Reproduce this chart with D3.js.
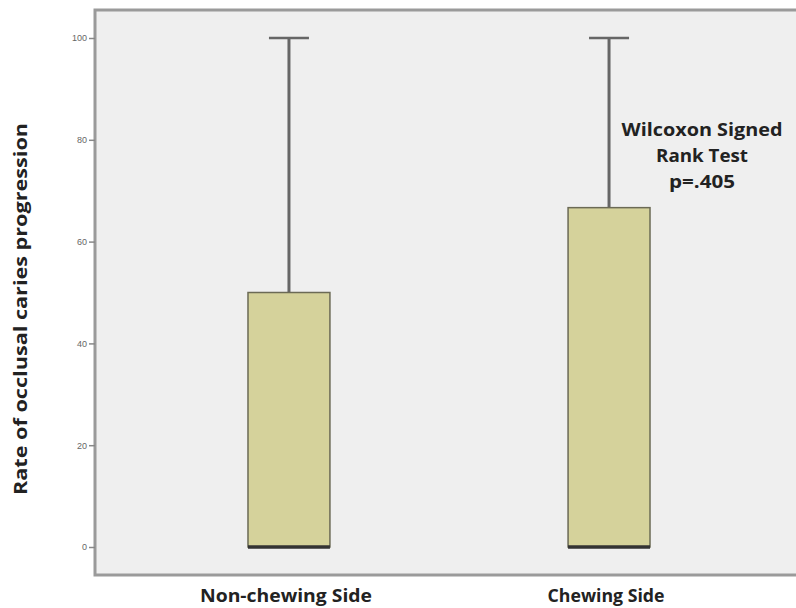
<!DOCTYPE html>
<html>
<head>
<meta charset="utf-8">
<script src="https://cdn.jsdelivr.net/npm/d3@7"></script>
<style>
  body { margin: 0; background: #fff; }
  svg { display: block; }
</style>
</head>
<body>
<div id="chart"></div>
<script>
// box plot data (rate of occlusal caries progression)
var categories = ["Non-chewing Side", "Chewing Side"];
var whiskerLow = [0, 0];
var q1 = [0, 0];
var median = [0, 0];
var q3 = [50, 66.67];
var whiskerHigh = [100, 100];
var yTicks = [0, 20, 40, 60, 80, 100];
var noteLines = ["Wilcoxon Signed", "Rank Test", "p=.405"];

var width = 796, height = 608;
var plotL = 95, plotT = 10, plotB = 575, plotR = 803;

var svg = d3.select("#chart").append("svg")
  .attr("width", width)
  .attr("height", height);

var x = d3.scaleBand()
  .domain(categories)
  .range([plotL, plotR])
  .paddingInner(0.744)
  .paddingOuter(0.478);

var y = d3.scaleLinear()
  .domain([0, 100])
  .range([547, 38]);

// plot frame
svg.append("rect")
  .attr("x", plotL)
  .attr("y", plotT)
  .attr("width", plotR - plotL)
  .attr("height", plotB - plotT)
  .attr("fill", "#efefef")
  .attr("stroke", "#9a9a9a")
  .attr("stroke-width", 3);

// y axis
var yAxis = svg.append("g")
  .attr("transform", "translate(" + plotL + ",0)")
  .call(d3.axisLeft(y).tickValues(yTicks).tickSize(6).tickPadding(2));
yAxis.select(".domain").remove();
yAxis.selectAll("line").attr("stroke", "#888").attr("stroke-width", 1.5);
yAxis.selectAll("text")
  .attr("fill", "#666")
  .style("font", "9px 'Liberation Sans', Arial, sans-serif");

var data = categories.map(function (c, i) {
  return { cat: c, lo: whiskerLow[i], q1: q1[i], med: median[i], q3: q3[i], hi: whiskerHigh[i] };
});

var boxes = svg.selectAll("g.box")
  .data(data)
  .enter().append("g")
  .attr("class", "box");

// whisker
boxes.append("line")
  .attr("x1", d => x(d.cat) + x.bandwidth() / 2)
  .attr("x2", d => x(d.cat) + x.bandwidth() / 2)
  .attr("y1", d => y(d.hi))
  .attr("y2", d => y(d.q3))
  .attr("stroke", "#666")
  .attr("stroke-width", 3);

// whisker cap
boxes.append("line")
  .attr("x1", d => x(d.cat) + x.bandwidth() / 2 - 20)
  .attr("x2", d => x(d.cat) + x.bandwidth() / 2 + 20)
  .attr("y1", d => y(d.hi))
  .attr("y2", d => y(d.hi))
  .attr("stroke", "#666")
  .attr("stroke-width", 2.5);

// box
boxes.append("rect")
  .attr("x", d => x(d.cat))
  .attr("width", x.bandwidth())
  .attr("y", d => y(d.q3))
  .attr("height", d => y(d.q1) - y(d.q3))
  .attr("fill", "#d5d29b")
  .attr("stroke", "#6b6a55")
  .attr("stroke-width", 1.5);

// median
boxes.append("line")
  .attr("x1", d => x(d.cat))
  .attr("x2", d => x(d.cat) + x.bandwidth())
  .attr("y1", d => y(d.med))
  .attr("y2", d => y(d.med))
  .attr("stroke", "#333")
  .attr("stroke-width", 3.5);

var labelFont = "bold 18px 'Open Sans', sans-serif";
var catWidths = [172, 117];

// category labels
svg.selectAll("text.cat")
  .data(categories)
  .enter().append("text")
  .attr("class", "cat")
  .attr("x", d => x(d) + x.bandwidth() / 2 - 3)
  .attr("y", 602)
  .attr("text-anchor", "middle")
  .attr("fill", "#222")
  .attr("textLength", (d, i) => catWidths[i])
  .attr("lengthAdjust", "spacingAndGlyphs")
  .style("font", labelFont)
  .text(d => d);

// y title
svg.append("text")
  .attr("transform", "translate(27,309) rotate(-90)")
  .attr("text-anchor", "middle")
  .attr("fill", "#222")
  .attr("textLength", 372)
  .attr("lengthAdjust", "spacingAndGlyphs")
  .style("font", labelFont)
  .text("Rate of occlusal caries progression");

// test note
var noteWidths = [161, 92, 66];
svg.selectAll("text.note")
  .data(noteLines)
  .enter().append("text")
  .attr("class", "note")
  .attr("x", 702)
  .attr("y", (d, i) => 136 + i * 26)
  .attr("text-anchor", "middle")
  .attr("fill", "#222")
  .attr("textLength", (d, i) => noteWidths[i])
  .attr("lengthAdjust", "spacingAndGlyphs")
  .style("font", labelFont)
  .text(d => d);
</script>
</body>
</html>
